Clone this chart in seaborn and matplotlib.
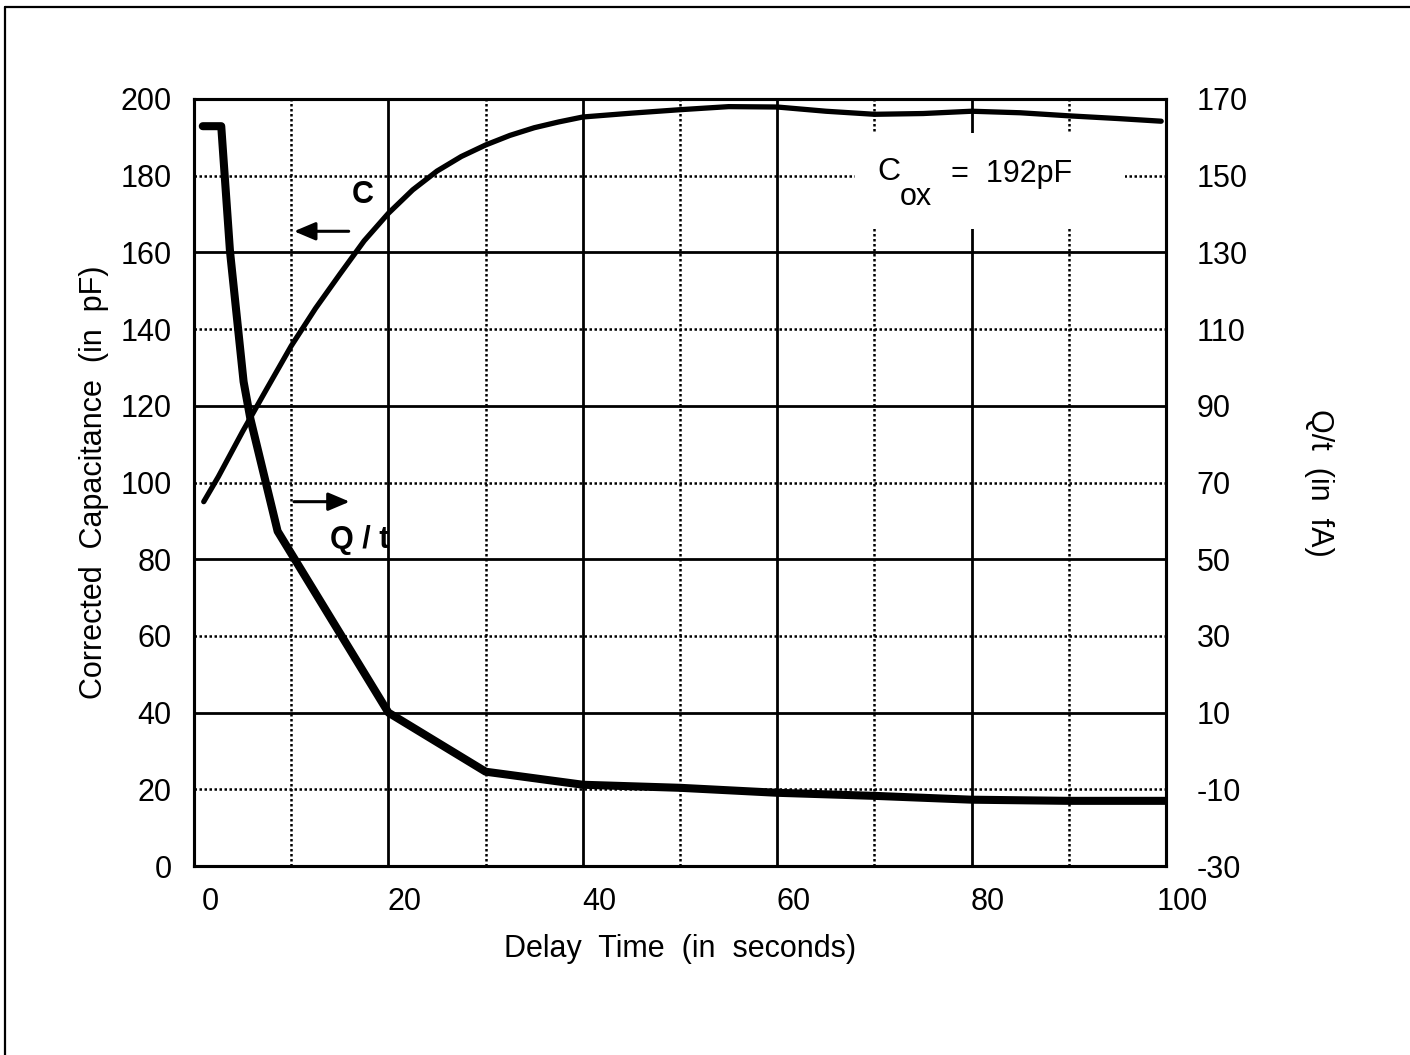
import numpy as np
import pandas as pd
import seaborn as sns
import matplotlib.pyplot as plt
import matplotlib.transforms as mtransforms
from matplotlib.lines import Line2D
from matplotlib.patches import Rectangle

# values
delay_c = [1, 2.5, 5, 7.5, 10, 12.5, 15, 17.5, 20, 22.5, 25, 27.5, 30, 32.5, 35, 37.5,
           40, 45, 50, 55, 60, 65, 70, 75, 80, 85, 90, 95, 99.5]
capacitance = [95, 101.5, 113.3, 124.5, 135.6, 145.4, 154.3, 163, 170.2, 176.3, 181.2, 185,
               188, 190.5, 192.5, 194, 195.3, 196.3, 197.2, 198, 197.9, 196.8, 196, 196.2,
               196.8, 196.4, 195.6, 194.9, 194.2]

delay_q = [0.9, 2.8, 3.7, 5.1, 5.8, 7.3, 8.6, 20, 30, 40, 50, 60, 70, 80, 90, 100]
q_over_t = [162.9, 162.9, 130.3, 96.3, 86.6, 70.9, 57.3, 10, -5.4, -8.8, -9.6, -10.9,
            -11.7, -12.7, -13, -13]

x_ticks = [0, 20, 40, 60, 80, 100]
left_ticks = [0, 20, 40, 60, 80, 100, 120, 140, 160, 180, 200]
right_ticks = [-30, -10, 10, 30, 50, 70, 90, 110, 130, 150, 170]

cap_df = pd.DataFrame({'delay': delay_c, 'C': capacitance})
q_df = pd.DataFrame({'delay': delay_q, 'Qt': q_over_t})

sns.set_style('white')
plt.rcParams['font.family'] = ['Liberation Sans', 'DejaVu Sans']
plt.rcParams['axes.unicode_minus'] = False
plt.rcParams['text.color'] = 'black'
plt.rcParams['axes.labelcolor'] = 'black'
plt.rcParams['xtick.color'] = 'black'
plt.rcParams['ytick.color'] = 'black'

fig = plt.figure(figsize=(14.1, 10.55), dpi=100)
ax = fig.add_axes([0.1376, 0.1791, 0.6894, 0.7271])

# grid: solid every 20 s / 40 pF, dotted in between
for x in [20, 40, 60, 80]:
    ax.axvline(x, color='black', lw=2.0, zorder=0.5)
for x in [10, 30, 50, 70, 90]:
    ax.axvline(x, color='black', lw=1.8, ls=(0, (1, 1)), zorder=0.5)
for y in [40, 80, 120, 160]:
    ax.axhline(y, color='black', lw=2.0, zorder=0.5)
for y in [20, 60, 100, 140, 180]:
    ax.axhline(y, color='black', lw=1.8, ls=(0, (1, 1)), zorder=0.5)

# white box behind the Cox note
ax.add_patch(Rectangle((68.0, 166), 27.8, 25, facecolor='white', edgecolor='none', zorder=1))
ax.text(70.3, 181, 'C', fontsize=23, va='center', ha='left', zorder=2)
ax.text(72.6, 174.5, 'ox', fontsize=22, va='center', ha='left', zorder=2)
ax.text(77.9, 180.5, '=  192pF', fontsize=22, va='center', ha='left', zorder=2)

sns.lineplot(data=cap_df, x='delay', y='C', ax=ax, color='black', lw=3.8, zorder=3)

ax.set_xlim(0, 100)
ax.set_ylim(0, 200)
ax.set_xticks(x_ticks)
ax.set_yticks(left_ticks)
ax.tick_params(axis='both', length=0, labelsize=22)
ax.tick_params(axis='y', pad=16)
ax.tick_params(axis='x', pad=15)
ax.set_xlabel('Delay  Time  (in  seconds)', fontsize=22, labelpad=12)
ax.set_ylabel('Corrected  Capacitance  (in  pF)', fontsize=22, labelpad=8)

# the x tick labels sit a little right of their grid lines in the original
shift = mtransforms.ScaledTranslation(0.16, 0, fig.dpi_scale_trans)
for lbl in ax.get_xticklabels():
    lbl.set_transform(lbl.get_transform() + shift)

ax2 = ax.twinx()
sns.lineplot(data=q_df, x='delay', y='Qt', ax=ax2, color='black', lw=5.8, zorder=3)
ax2.set_ylim(-30, 170)
ax2.set_yticks(right_ticks)
ax2.tick_params(axis='y', length=0, labelsize=22, pad=22)
ax2.set_ylabel('Q/t  (in  fA)', fontsize=22, rotation=270, labelpad=62)
ax2.set_xlim(0, 100)

for a in (ax, ax2):
    for s in a.spines.values():
        s.set_linewidth(2.2)
        s.set_color('black')

# curve tags with arrows
ax.text(17.4, 175, 'C', fontsize=22, fontweight='bold', ha='center', va='center')
ax.annotate('', xy=(10.0, 165.5), xytext=(16.2, 165.5),
            arrowprops=dict(arrowstyle='-|>,head_length=1.3,head_width=0.55', color='black', lw=2.2))
ax.text(14.0, 85, 'Q / t', fontsize=22, fontweight='bold', ha='left', va='center')
ax.annotate('', xy=(16.3, 95), xytext=(10.0, 95),
            arrowprops=dict(arrowstyle='-|>,head_length=1.3,head_width=0.55', color='black', lw=2.2))

# page frame lines (top and left)
fig.add_artist(Line2D([0.0035, 1], [0.9934, 0.9934], color='black', lw=1.6))
fig.add_artist(Line2D([0.0035, 0.0035], [0, 0.9934], color='black', lw=1.6))

fig.savefig('out.png', dpi=100)
